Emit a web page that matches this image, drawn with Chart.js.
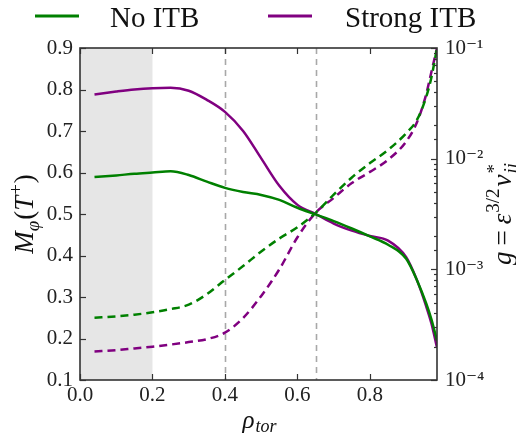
<!DOCTYPE html>
<html>
<head>
<meta charset="utf-8">
<script src="https://cdn.jsdelivr.net/npm/chart.js@4.4.0/dist/chart.umd.min.js"></script>
<style>
  html, body { margin: 0; padding: 0; background: #fff; }
  #wrap { width: 516px; height: 439px; }
</style>
</head>
<body>
<div id="wrap"><canvas id="chart" width="516" height="439"></canvas></div>
<script>
// radial coordinate (rho_tor)
const rho = [0.04, 0.1, 0.15, 0.2, 0.25, 0.3, 0.35, 0.4, 0.45, 0.5, 0.55, 0.6, 0.65, 0.7, 0.75, 0.8, 0.85, 0.9, 0.93, 0.955, 0.97, 0.985];

// M_phi (left axis)
const mNoItb     = [0.589, 0.593, 0.597, 0.600, 0.603, 0.594, 0.578, 0.563, 0.553, 0.546, 0.534, 0.515, 0.499, 0.483, 0.465, 0.446, 0.426, 0.392, 0.340, 0.285, 0.245, 0.195];
const mStrongItb = [0.788, 0.795, 0.800, 0.803, 0.804, 0.797, 0.775, 0.746, 0.700, 0.634, 0.568, 0.522, 0.500, 0.477, 0.460, 0.447, 0.436, 0.396, 0.340, 0.278, 0.235, 0.178];

// g = eps^(3/2) nu*_ii (right axis, log)
const gNoItb     = [3.66e-4, 3.76e-4, 3.89e-4, 4.09e-4, 4.37e-4, 4.79e-4, 5.96e-4, 8.02e-4, 1.07e-3, 1.45e-3, 1.90e-3, 2.40e-3, 3.24e-3, 4.73e-3, 6.76e-3, 9.12e-3, 1.20e-2, 1.70e-2, 2.25e-2, 3.60e-2, 5.50e-2, 1.0e-1];
const gStrongItb = [1.81e-4, 1.86e-4, 1.93e-4, 2.00e-4, 2.09e-4, 2.20e-4, 2.34e-4, 2.68e-4, 3.63e-4, 5.75e-4, 1.00e-3, 1.95e-3, 3.24e-3, 4.42e-3, 6.03e-3, 7.59e-3, 9.77e-3, 1.43e-2, 2.14e-2, 3.80e-2, 6.17e-2, 1.0e-1];

const seriesNames = ['No ITB', 'Strong ITB'];
const shadeRange = [0, 0.2];
const markerLines = [0.4, 0.65];

const GREEN = '#008000';
const PURPLE = '#800080';
const SERIF = "'Liberation Serif', 'DejaVu Serif', serif";

function pts(xs, ys) {
    return xs.map((x, i) => ({ x: x, y: ys[i] }));
}

function supText(n) {
    const map = { '-': '\u207B', '0': '\u2070', '1': '\u00B9', '2': '\u00B2', '3': '\u00B3', '4': '\u2074', '5': '\u2075' };
    return String(n).split('').map(c => map[c] || c).join('');
}

// draw text made of several pieces (italic, sub/superscripts)
function drawRich(ctx, parts, x, y, rot) {
    ctx.save();
    ctx.translate(x, y);
    if (rot) ctx.rotate(rot);
    let cursor = 0, prevStart = 0, prevW = 0;
    const placed = [];
    parts.forEach(p => {
        ctx.font = (p.it ? 'italic ' : '') + p.size + 'px ' + SERIF;
        const w = ctx.measureText(p.t).width;
        let px;
        if (p.over) {
            px = prevStart;
            cursor = prevStart + Math.max(prevW, w) + (p.gap || 0);
        } else {
            px = cursor;
            prevStart = cursor;
            prevW = w;
            cursor += w + (p.gap || 0);
        }
        placed.push({ p: p, x: px });
    });
    const start = -cursor / 2;
    ctx.fillStyle = '#111';
    ctx.textBaseline = 'alphabetic';
    ctx.textAlign = 'left';
    placed.forEach(o => {
        ctx.font = (o.p.it ? 'italic ' : '') + o.p.size + 'px ' + SERIF;
        ctx.fillText(o.p.t, start + o.x, o.p.dy || 0);
    });
    ctx.restore();
}

const decorPlugin = {
    id: 'decor',
    beforeDatasetsDraw(chart) {
        const { ctx, chartArea: a, scales } = chart;
        const x = scales.x;
        ctx.save();
        // shaded core region
        const x0 = x.getPixelForValue(shadeRange[0]);
        const x1 = x.getPixelForValue(shadeRange[1]);
        ctx.fillStyle = '#e6e6e6';
        ctx.fillRect(x0, a.top, x1 - x0, a.bottom - a.top);
        // dashed vertical markers
        ctx.strokeStyle = '#a8a8a8';
        ctx.lineWidth = 1.6;
        ctx.setLineDash([6, 5]);
        markerLines.forEach(v => {
            const px = Math.round(x.getPixelForValue(v)) + 0.5;
            ctx.beginPath();
            ctx.moveTo(px, a.top);
            ctx.lineTo(px, a.bottom);
            ctx.stroke();
        });
        ctx.restore();
    },
    afterDraw(chart) {
        const { ctx, chartArea: a, scales } = chart;
        ctx.save();
        ctx.strokeStyle = '#333';
        ctx.lineWidth = 1.2;
        // inward ticks, x (bottom and top)
        scales.x.ticks.forEach(t => {
            const px = Math.round(scales.x.getPixelForValue(t.value)) + 0.5;
            ctx.beginPath();
            ctx.moveTo(px, a.bottom); ctx.lineTo(px, a.bottom - 6);
            ctx.moveTo(px, a.top); ctx.lineTo(px, a.top + 6);
            ctx.stroke();
        });
        // left axis
        scales.y.ticks.forEach(t => {
            const py = Math.round(scales.y.getPixelForValue(t.value)) + 0.5;
            ctx.beginPath();
            ctx.moveTo(a.left, py); ctx.lineTo(a.left + 6, py);
            ctx.stroke();
        });
        // right log axis, major and minor
        scales.y2.ticks.forEach(t => {
            const e = Math.log10(t.value);
            const major = Math.abs(e - Math.round(e)) < 1e-6;
            const py = Math.round(scales.y2.getPixelForValue(t.value)) + 0.5;
            ctx.beginPath();
            ctx.moveTo(a.right, py); ctx.lineTo(a.right - (major ? 6 : 3), py);
            ctx.stroke();
        });
        // frame
        ctx.lineWidth = 1.6;
        ctx.strokeRect(a.left, a.top, a.right - a.left, a.bottom - a.top);
        ctx.restore();

        // axis titles
        const midY = (a.top + a.bottom) / 2;
        drawRich(ctx, [
            { t: 'M', size: 27, it: true },
            { t: '\u03C6', size: 19, it: true, dy: 6, gap: 1 },
            { t: '(', size: 27 },
            { t: 'T', size: 27, it: true, gap: 1 },
            { t: '+', size: 19, dy: -11, gap: 1 },
            { t: ')', size: 27 }
        ], 33, midY, -Math.PI / 2);
        drawRich(ctx, [
            { t: 'g', size: 27, it: true, gap: 6 },
            { t: '=', size: 27, gap: 6 },
            { t: '\u03B5', size: 27, it: true, gap: 1 },
            { t: '3/2', size: 19, dy: -12, gap: 2 },
            { t: '\u03BD', size: 27, it: true, gap: 1 },
            { t: '*', size: 19, dy: -11 },
            { t: 'ii', size: 19, it: true, dy: 6, over: true }
        ], 511, midY, -Math.PI / 2);
        drawRich(ctx, [
            { t: '\u03C1', size: 25, it: true, gap: 1 },
            { t: 'tor', size: 18, it: true, dy: 4 }
        ], (a.left + a.right) / 2 + 1, 428, 0);

        // legend (solid series only)
        const solid = chart.data.datasets.filter(d => !d.borderDash);
        const items = [{ lx: 35, tx: 110 }, { lx: 268, tx: 345 }];
        ctx.save();
        solid.forEach((d, i) => {
            const it = items[i];
            ctx.strokeStyle = d.borderColor;
            ctx.lineWidth = 3;
            ctx.beginPath();
            ctx.moveTo(it.lx, 16); ctx.lineTo(it.lx + 44, 16);
            ctx.stroke();
            ctx.fillStyle = '#111';
            ctx.font = '29px ' + SERIF;
            ctx.textBaseline = 'alphabetic';
            ctx.fillText(d.label, it.tx, 27);
        });
        ctx.restore();
    }
};

const tickFont = { family: SERIF, size: 21 };

new Chart(document.getElementById('chart').getContext('2d'), {
    type: 'line',
    data: {
        datasets: [
            { label: seriesNames[0], data: pts(rho, mNoItb), borderColor: GREEN, yAxisID: 'y' },
            { label: seriesNames[1], data: pts(rho, mStrongItb), borderColor: PURPLE, yAxisID: 'y' },
            { label: seriesNames[0] + ' g', data: pts(rho, gNoItb), borderColor: GREEN, borderDash: [8, 5], yAxisID: 'y2' },
            { label: seriesNames[1] + ' g', data: pts(rho, gStrongItb), borderColor: PURPLE, borderDash: [8, 5], yAxisID: 'y2' }
        ]
    },
    options: {
        responsive: false,
        animation: false,
        devicePixelRatio: 1,
        layout: { padding: { top: 48, left: 0, right: 0, bottom: 0 } },
        elements: {
            point: { radius: 0 },
            line: { borderWidth: 2.5, cubicInterpolationMode: 'monotone', fill: false }
        },
        plugins: {
            legend: { display: false },
            tooltip: { enabled: false }
        },
        scales: {
            x: {
                type: 'linear',
                min: 0,
                max: 0.985,
                grid: { display: false, drawTicks: false },
                border: { display: false },
                ticks: {
                    stepSize: 0.2,
                    includeBounds: false,
                    maxRotation: 0,
                    padding: 3,
                    color: '#222',
                    font: tickFont,
                    callback: v => v.toFixed(1)
                },
                afterFit: s => { s.height = 59; }
            },
            y: {
                type: 'linear',
                position: 'left',
                min: 0.1,
                max: 0.9,
                grid: { display: false, drawTicks: false },
                border: { display: false },
                ticks: {
                    stepSize: 0.1,
                    padding: 7,
                    color: '#222',
                    font: tickFont,
                    callback: v => v.toFixed(1)
                },
                afterFit: s => { s.width = 80; }
            },
            y2: {
                type: 'logarithmic',
                position: 'right',
                min: 1e-4,
                max: 1e-1,
                grid: { display: false, drawTicks: false },
                border: { display: false },
                ticks: {
                    autoSkip: false,
                    padding: 8,
                    color: '#222',
                    font: tickFont,
                    callback: v => {
                        const e = Math.log10(v);
                        return Math.abs(e - Math.round(e)) < 1e-6 ? '10' + supText(Math.round(e)) : '';
                    }
                },
                afterFit: s => { s.width = 79; }
            }
        }
    },
    plugins: [decorPlugin]
});
</script>
</body>
</html>
